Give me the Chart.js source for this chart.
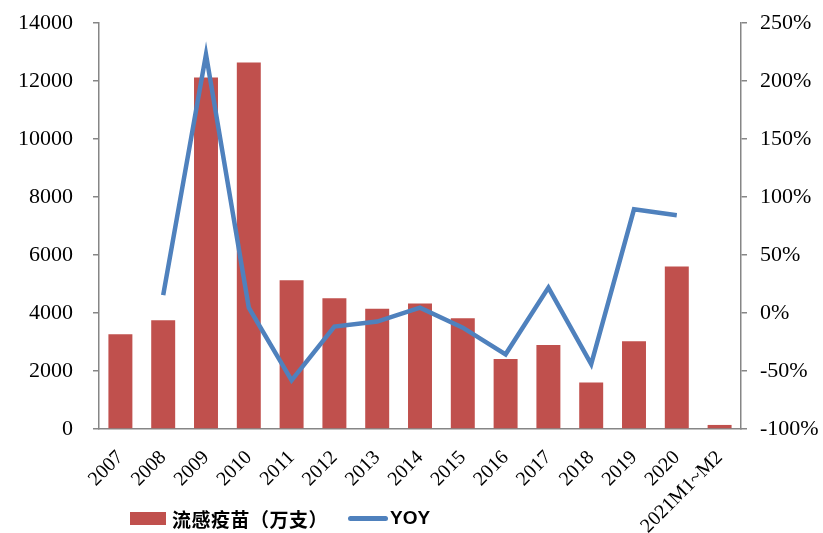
<!DOCTYPE html>
<html>
<head>
<meta charset="utf-8">
<script src="https://cdn.jsdelivr.net/npm/chart.js@4.4.0/dist/chart.umd.min.js"></script>
<style>
  html, body { margin: 0; padding: 0; background: #fff; }
  #wrap { position: relative; width: 823px; height: 533px; }
  #legend { position: absolute; left: 0; top: 505px; width: 823px; height: 26px; }
  .lg { position: absolute; top: 0; display: flex; align-items: center; height: 26px; }
  .box { width: 36px; height: 13px; background: #C0504D; margin-right: 6px; }
  .ln { width: 40px; height: 5px; border-radius: 3px; background: #4F81BD; margin-right: 2px; }
  .t1 { font-family: "Noto Sans CJK SC"; font-weight: bold; font-size: 19px; color: #000; letter-spacing: 0.5px; }
  .t2 { font-family: "Liberation Sans", Arial; font-weight: bold; font-size: 19px; color: #000; }
</style>
</head>
<body>
<div id="wrap">
  <canvas id="chart" width="823" height="533"></canvas>
  <div id="legend">
    <div class="lg" style="left:130px"><span class="box"></span><span class="t1">流感疫苗（万支）</span></div>
    <div class="lg" style="left:348px"><span class="ln"></span><span class="t2">YOY</span></div>
  </div>
</div>
<script>
const categories = ['2007', '2008', '2009', '2010', '2011', '2012', '2013', '2014', '2015', '2016', '2017', '2018', '2019', '2020', '2021M1~M2'];
const vaccineValues = [3270, 3750, 12120, 12640, 5130, 4510, 4150, 4330, 3820, 2410, 2900, 1600, 3030, 5600, 140];
const yoyValues = [null, 15.5, 223, 4.6, -58, -11.7, -7.4, 4.6, -12.6, -35.6, 21.9, -44, 89.4, 84.2, null];

const axisColor = '#868686';
const serif = 'Liberation Serif';

// fixe la taille des axes verticaux pour coller au cadre de l'image
function fixVertical(width) {
    return function(scale) {
        scale.width = width;
        scale.paddingTop = 0;
        scale.paddingBottom = 0;
    };
}

const ctx = document.getElementById('chart').getContext('2d');
const chart = new Chart(ctx, {
    type: 'bar',
    data: {
        labels: categories,
        datasets: [
            {
                type: 'line',
                label: 'YOY',
                data: yoyValues,
                yAxisID: 'y1',
                borderColor: '#4F81BD',
                borderWidth: 4.5,
                pointRadius: 0,
                tension: 0,
                spanGaps: false,
                order: 0
            },
            {
                type: 'bar',
                label: '流感疫苗（万支）',
                data: vaccineValues,
                yAxisID: 'y',
                backgroundColor: '#C0504D',
                borderWidth: 0,
                barPercentage: 0.56,
                categoryPercentage: 1,
                order: 1
            }
        ]
    },
    options: {
        responsive: false,
        animation: false,
        layout: { padding: { top: 23, left: 0, right: 0, bottom: 0 } },
        plugins: {
            legend: { display: false },
            tooltip: { enabled: false }
        },
        scales: {
            x: {
                offset: true,
                grid: { display: false, drawTicks: false },
                border: { color: axisColor, width: 1.5 },
                ticks: {
                    color: '#000',
                    font: { family: serif, size: 20 },
                    maxRotation: 45,
                    minRotation: 45,
                    autoSkip: false,
                    padding: 17
                },
                afterFit: function(scale) { scale.height = 104; }
            },
            y: {
                position: 'left',
                min: 0,
                max: 14000,
                ticks: {
                    stepSize: 2000,
                    color: '#000',
                    font: { family: serif, size: 22 },
                    padding: 20,
                    callback: function(v) { return String(v); }
                },
                grid: { drawOnChartArea: false, drawTicks: true, tickLength: 6, color: axisColor, lineWidth: 1.5 },
                border: { color: axisColor, width: 1.5 },
                afterFit: fixVertical(99)
            },
            y1: {
                position: 'right',
                min: -100,
                max: 250,
                ticks: {
                    stepSize: 50,
                    color: '#000',
                    font: { family: serif, size: 22 },
                    padding: 13,
                    callback: function(v) { return v + '%'; }
                },
                grid: { drawOnChartArea: false, drawTicks: true, tickLength: 6, color: axisColor, lineWidth: 1.5 },
                border: { color: axisColor, width: 1.5 },
                afterFit: fixVertical(82)
            }
        }
    }
});
</script>
</body>
</html>
